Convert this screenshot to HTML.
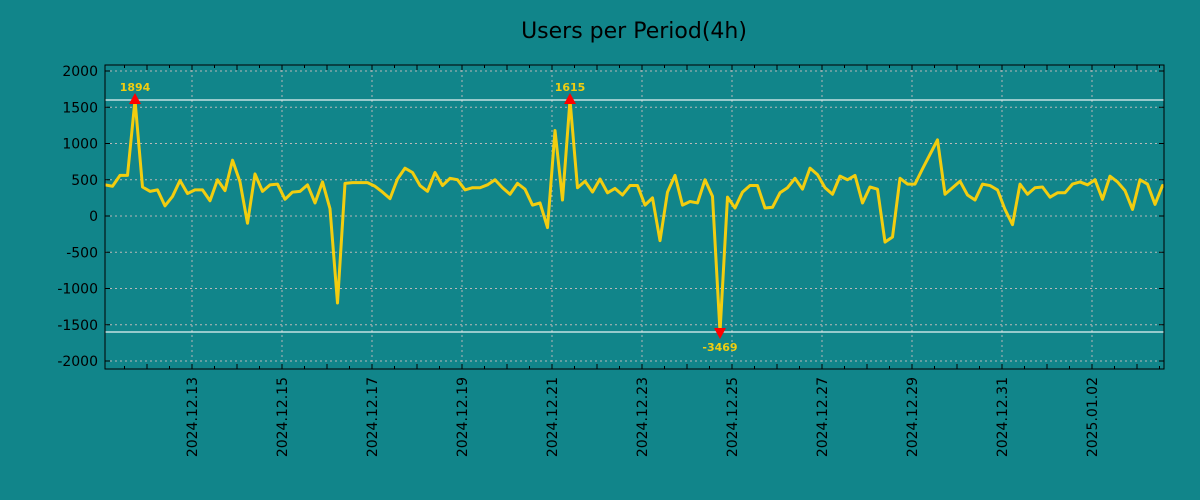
<!DOCTYPE html>
<html><head><meta charset="utf-8"><style>
body{margin:0;background:#11858a;}
svg{display:block;font-family:"DejaVu Sans","Liberation Sans",sans-serif;}
</style></head><body>
<svg id="chart" width="1200" height="500">
<rect width="1200" height="500" fill="#11858a"/>
<text x="634" y="38" text-anchor="middle" font-size="22" fill="#000">Users per Period(4h)</text>
<g id="grid"></g><g id="limits"></g><g id="series"></g><g id="annot"></g><g id="axes"></g>
</svg>
<script>
const values=[430,410,560,560,1894,400,340,360,140,270,490,310,360,360,210,500,350,770,470,-100,580,340,430,440,230,330,340,430,180,470,100,-1200,450,460,460,460,410,330,
240,510,660,600,420,340,600,420,520,500,360,390,390,430,500,390,300,450,370,150,180,-160,1180,220,1615,
390,480,330,510,320,380,290,420,420,150,250,-340,330,560,150,200,180,500,270,-3469,
260,110,330,420,420,110,120,320,390,520,370,660,570,390,300,550,500,560,180,400,370,-360,-290,520,440,440,650,850,1050,300,
390,480,290,220,440,420,360,90,-120,440,300,390,400,260,320,320,440,470,430,500,230,550,470,350,90,500,440,160,420,380];
const yTicks=[2000,1500,1000,500,0,-500,-1000,-1500,-2000];
const dateLabels=["2024.12.13","2024.12.15","2024.12.17","2024.12.19","2024.12.21","2024.12.23","2024.12.25","2024.12.27","2024.12.29","2024.12.31","2025.01.02"];
const dateDays=[2,4,6,8,10,12,14,16,18,20,22];
const limit=1600;
const L=105,R=1164,T=65,B=369;
const NS="http://www.w3.org/2000/svg";
const yS=v=>216-v*36.25/500;
const xI=i=>L+i*7.5;
const xD=d=>102+d*45;
function mk(tag,attrs,parent){const e=document.createElementNS(NS,tag);for(const k in attrs)e.setAttribute(k,attrs[k]);parent.appendChild(e);return e;}
const grid=document.getElementById('grid'),axes=document.getElementById('axes'),series=document.getElementById('series'),annot=document.getElementById('annot'),lim=document.getElementById('limits');
yTicks.forEach(v=>{const y=yS(v);
 const g=mk('line',{x1:L,x2:R,y1:y,y2:y,stroke:'#b8b8b8','stroke-dasharray':'2,3','stroke-width':1},grid);
 
 
 mk('line',{x1:L,x2:L+5,y1:y,y2:y,stroke:'#000'},axes);
 mk('line',{x1:R-5,x2:R,y1:y,y2:y,stroke:'#000'},axes);
 const t=mk('text',{x:98,y:y+5,'text-anchor':'end','font-size':14,fill:'#000'},axes);t.textContent=v;
 
 
});
for(let h=0;h<=48;h++){const x=102+h*22.5;if(x<L||x>R)continue;const len=(h%2==0)?5:3;
 mk('line',{x1:x,x2:x,y1:B,y2:B-len,stroke:'#000'},axes);mk('line',{x1:x,x2:x,y1:T,y2:T+len,stroke:'#000'},axes);}
dateDays.forEach((d,k)=>{const x=xD(d);
 const g=mk('line',{x1:x,x2:x,y1:T,y2:B,stroke:'#b8b8b8','stroke-dasharray':'2,3'},grid);
 
 
 const t=mk('text',{x:0,y:0,'text-anchor':'end','font-size':14,fill:'#000',transform:`translate(${x+5},377) rotate(-90)`},axes);t.textContent=dateLabels[k];
 
 
});
[limit,-limit].forEach(v=>{const l=mk('line',{x1:L,x2:R,y1:yS(v),y2:yS(v),stroke:'#e8f4f4','stroke-width':1.2},lim);
 
 });
const cv=v=>Math.max(-limit,Math.min(limit,v));
const clip=mk('clipPath',{id:'pc'},series);mk('rect',{x:L,y:T,width:R-L,height:B-T},clip);
const p=mk('polyline',{points:values.map((v,i)=>xI(i)+','+yS(cv(v))).join(' '),fill:'none',stroke:'#f2cd0f','stroke-width':3,'stroke-linejoin':'round','clip-path':'url(#pc)'},series);


let iMax=0,iMin=0;values.forEach((v,i)=>{if(v>values[iMax])iMax=i;if(v<values[iMin])iMin=i;});
const peaks=[iMax,iMin];values.forEach((v,i)=>{if(v>limit&&i!==iMax)peaks.push(i);});
peaks.forEach(i=>{const v=values[i];const x=xI(i),y=yS(cv(v));const up=v>0;
 const tri=mk('polygon',{points:up?`${x-6},${y+4} ${x+6},${y+4} ${x},${y-7}`:`${x-6},${y-4} ${x+6},${y-4} ${x},${y+7}`,fill:'#ff0000'},annot);
 
 
 const t=mk('text',{x:x,y:up?y-9:y+19,'text-anchor':'middle','font-size':11,'font-weight':'bold',fill:'#f2cd0f'},annot);t.textContent=v;
 
 
});
const fr=mk('rect',{x:L,y:T,width:R-L,height:B-T,fill:'none',stroke:'#000','stroke-width':1},axes);


</script>
</body></html>
